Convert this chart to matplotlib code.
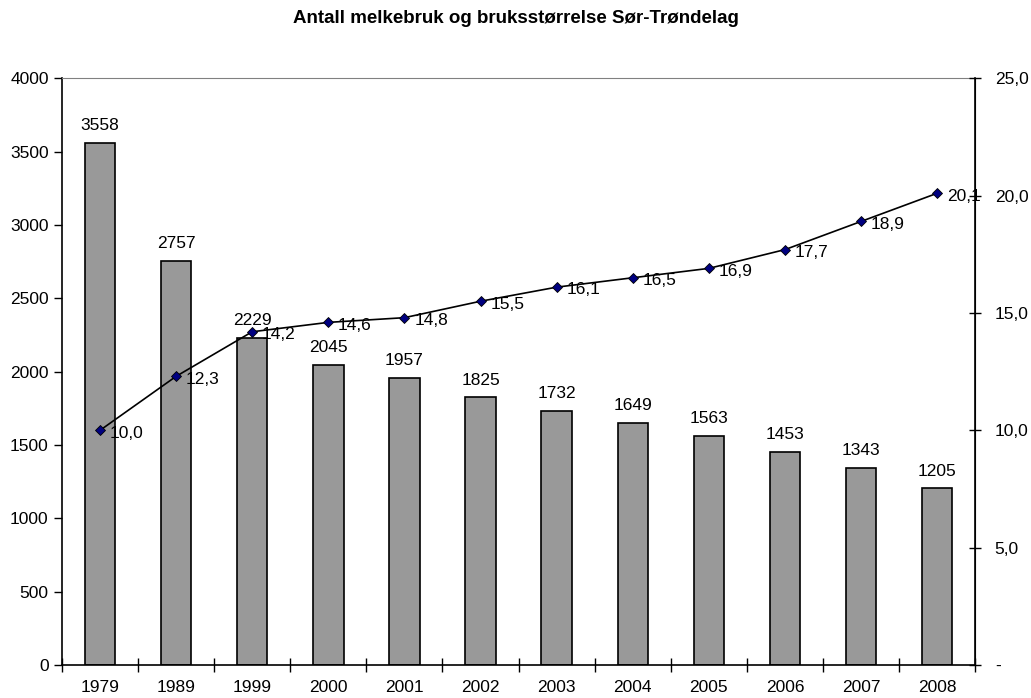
import matplotlib.pyplot as plt
import numpy as np

plt.rcParams['font.family'] = ['Liberation Sans', 'DejaVu Sans']

years = ['1979', '1989', '1999', '2000', '2001', '2002', '2003', '2004', '2005', '2006', '2007', '2008']
bruk = [3558, 2757, 2229, 2045, 1957, 1825, 1732, 1649, 1563, 1453, 1343, 1205]
storrelse = [10.0, 12.3, 14.2, 14.6, 14.8, 15.5, 16.1, 16.5, 16.9, 17.7, 18.9, 20.1]

def komma(v):
    return f"{v:.1f}".replace('.', ',')

fs = 12.5
fig = plt.figure(figsize=(10.31, 6.98), dpi=100)
ax = fig.add_axes([0.060, 0.047, 0.886, 0.841])
x = np.arange(len(years))

ax.bar(x, bruk, width=0.4, color='#999999', edgecolor='black', linewidth=1.2, zorder=2)
for xi, b in zip(x, bruk):
    ax.annotate(str(b), (xi, b), xytext=(0, 7), textcoords='offset points',
                ha='center', va='bottom', fontsize=fs)

ax.set_xlim(-0.5, len(years) - 0.5)
ax.set_ylim(0, 4000)
ax.set_yticks(range(0, 4001, 500))
ax.set_xticks(x)
ax.set_xticklabels(years, fontsize=fs)
ax.set_xticks(np.arange(-0.5, len(years)), minor=True)
ax.tick_params(axis='x', which='major', length=0, pad=11)
ax.tick_params(axis='x', which='minor', length=10, direction='inout', width=1)
ax.tick_params(axis='y', labelsize=fs, length=6, direction='out', width=1)
ax.spines['top'].set_color('#808080')
ax.spines['top'].set_linewidth(0.8)
for s in ['left', 'bottom']:
    ax.spines[s].set_linewidth(1.2)

ax2 = ax.twinx()
ax2.plot(x, storrelse, color='black', linewidth=1.2, marker='D', markersize=5,
         markerfacecolor='#000080', markeredgecolor='black', markeredgewidth=0.6, zorder=3)
for xi, v in zip(x, storrelse):
    ax2.annotate(komma(v), (xi, v), xytext=(7, -2), textcoords='offset points',
                 ha='left', va='center', fontsize=fs)
ax2.set_ylim(0, 25)
ax2.set_yticks([0, 5, 10, 15, 20, 25])
ax2.set_yticklabels(['-'] + [komma(v) for v in [5, 10, 15, 20, 25]])
ax2.tick_params(axis='y', labelsize=fs, length=8, direction='inout', width=1, pad=10)
ax2.spines['right'].set_linewidth(1.2)
ax2.spines['top'].set_visible(False)
for s in ['left', 'bottom']:
    ax2.spines[s].set_visible(False)

fig.suptitle('Antall melkebruk og bruksstørrelse Sør-Trøndelag', y=0.974, va='center',
             fontsize=13.5, fontweight='bold')

fig.savefig('out.png', dpi=100)
